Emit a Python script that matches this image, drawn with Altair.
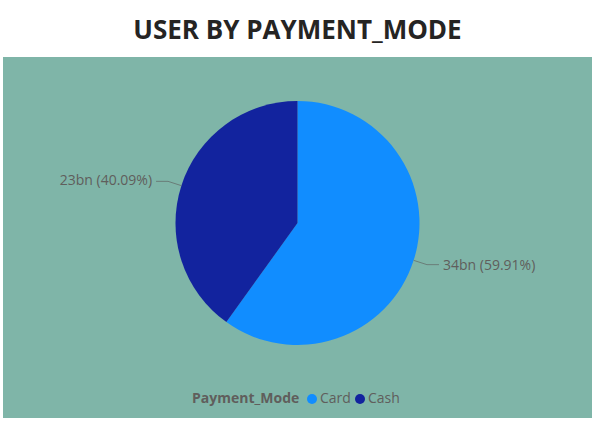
import altair as alt
import pandas as pd

modes = ["Card", "Cash"]
values_bn = [34.35, 22.99]
labels = ["34bn (59.91%)", "23bn (40.09%)"]
colors = ["#118DFF", "#12239E"]

df = pd.DataFrame({"Payment_Mode": modes, "value": values_bn, "label": labels})

CX, CY, R = 294.5, 166, 122
R_ELBOW = 136
SEG = 12

base = alt.Chart(df).transform_joinaggregate(
    total="sum(value)"
).transform_window(
    cum="sum(value)", sort=[alt.SortField("Payment_Mode")]
).transform_calculate(
    mid=f"(datum.cum - datum.value/2) / datum.total * 2 * PI",
).transform_calculate(
    sgn="sin(datum.mid) > 0 ? 1 : -1",
    x0=f"{CX} + {R} * sin(datum.mid)",
    y0=f"{CY} - {R} * cos(datum.mid)",
    x1=f"{CX} + {R_ELBOW} * sin(datum.mid)",
    y1=f"{CY} - {R_ELBOW} * cos(datum.mid)",
).transform_calculate(
    x2=f"datum.x1 + datum.sgn * {SEG}",
    xt=f"datum.x1 + datum.sgn * ({SEG} + 4)",
)

pie = alt.Chart(df).mark_arc(radius=R).encode(
    theta=alt.Theta("value:Q", stack=True),
    color=alt.Color(
        "Payment_Mode:N",
        scale=alt.Scale(domain=modes, range=colors),
        legend=alt.Legend(
            orient="none",
            direction="horizontal",
            legendX=189,
            legendY=335,
            titleOrient="left",
            title="Payment_Mode",
            titleFont="Open Sans",
            titleFontSize=14,
            titleFontWeight="bold",
            titleColor="#605E5C",
            labelFont="Open Sans",
            labelFontSize=14,
            labelColor="#605E5C",
            symbolType="circle",
            symbolSize=100,
            symbolStrokeWidth=0,
            columnPadding=2,
            labelOffset=1,
            titlePadding=5,
        ),
    ),
    order=alt.Order("Payment_Mode:N"),
    x=alt.value(CX),
    y=alt.value(CY),
)

radial = base.mark_rule(color="#6a7d78", strokeWidth=1).encode(
    x=alt.X("x0:Q", scale=None),
    y=alt.Y("y0:Q", scale=None),
    x2="x1:Q",
    y2="y1:Q",
)
horiz = base.mark_rule(color="#6a7d78", strokeWidth=1).encode(
    x=alt.X("x1:Q", scale=None),
    y=alt.Y("y1:Q", scale=None),
    x2="x2:Q",
    y2="y1:Q",
)

txt_right = base.transform_filter("datum.sgn > 0").mark_text(
    align="left", baseline="middle", font="Open Sans", fontSize=14, color="#605E5C", dy=1
).encode(
    x=alt.X("xt:Q", scale=None),
    y=alt.Y("y1:Q", scale=None),
    text="label:N",
)
txt_left = base.transform_filter("datum.sgn < 0").mark_text(
    align="right", baseline="middle", font="Open Sans", fontSize=14, color="#605E5C"
).encode(
    x=alt.X("xt:Q", scale=None),
    y=alt.Y("y1:Q", scale=None),
    text="label:N",
)

chart = alt.layer(pie, radial, horiz, txt_right, txt_left).properties(
    width=589,
    height=361,
    autosize=alt.AutoSizeParams(type="none"),
    padding={"left": 3, "top": 57, "right": 3, "bottom": 8},
    background="white",
    title=alt.TitleParams(
        text="USER BY PAYMENT_MODE",
        font="Open Sans",
        fontSize=26,
        fontWeight="bold",
        color="#252423",
        anchor="middle",
        offset=13,
    ),
).configure_view(fill="#7FB5A8", stroke=None)

chart.save("out.html", embed_options={"renderer": "svg", "actions": False})
